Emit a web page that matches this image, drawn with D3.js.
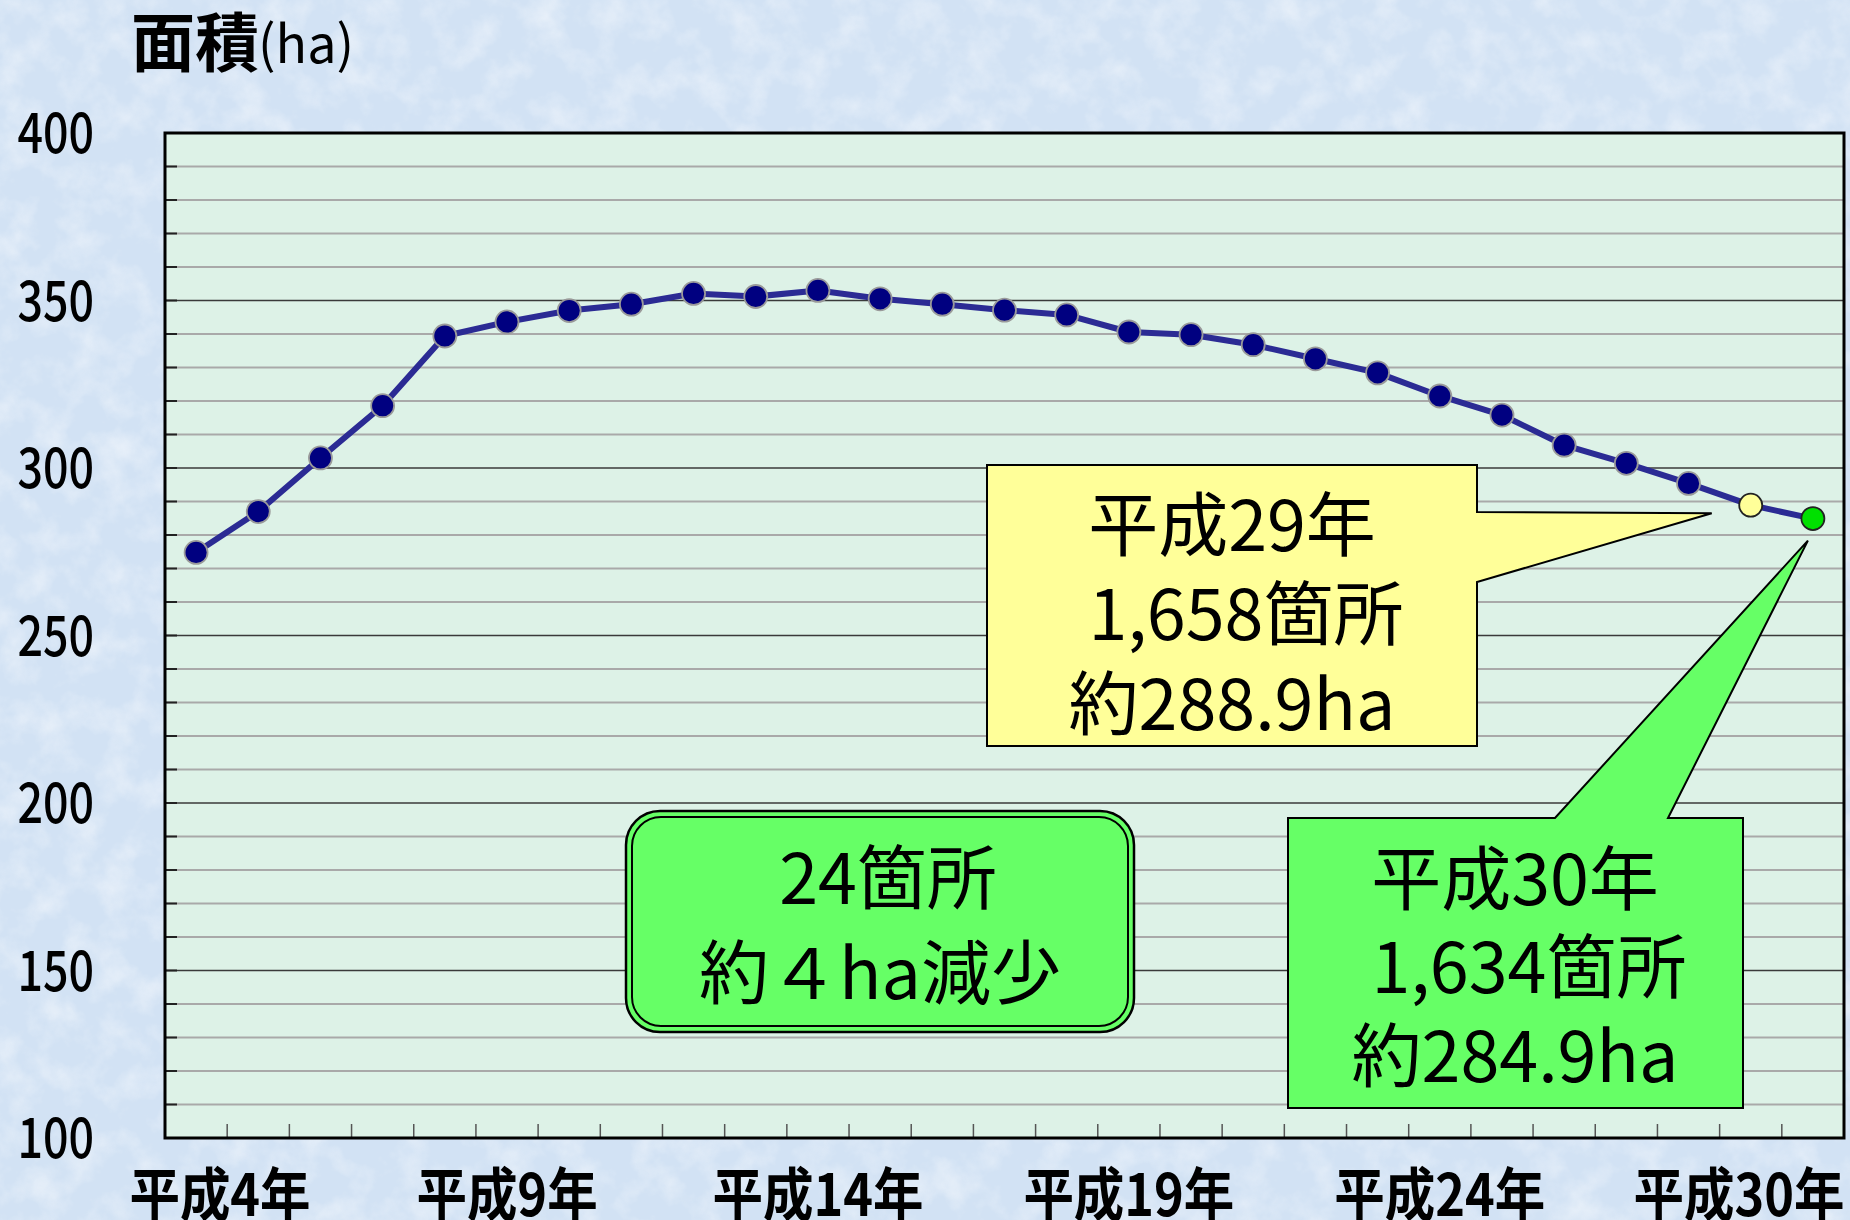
<!DOCTYPE html>
<html>
<head>
<meta charset="utf-8">
<script src="https://cdn.jsdelivr.net/npm/d3@7"></script>
<style>
  body { margin: 0; background: #d2e2f4; }
  svg { display: block; }
  text { font-family: "Noto Sans CJK JP", "Noto Sans", sans-serif; fill: #000; }
</style>
</head>
<body>
<div id="chart"></div>
<script>
// data (平成4年 .. 平成30年, 面積 ha)
const years = d3.range(4, 31);
const areas = [274.8, 287.0, 303.0, 318.6, 339.4, 343.6, 347.0, 348.9, 352.1, 351.2,
               353.0, 350.5, 348.9, 347.1, 345.7, 340.6, 339.8, 336.8, 332.6, 328.4,
               321.5, 315.8, 306.8, 301.4, 295.4, 288.9, 284.9];
const labelYears = [4, 9, 14, 19, 24, 30];
const yLabels = [100, 150, 200, 250, 300, 350, 400];
const calloutH29 = ["平成29年", "1,658箇所", "約288.9ha"];
const calloutH30 = ["平成30年", "1,634箇所", "約284.9ha"];
const summary = ["24箇所", "約４ha減少"];

const W = 1850, H = 1220;
const L = 165, R = 1844, T = 133, B = 1138;

const svg = d3.select('#chart').append('svg').attr('width', W).attr('height', H);

// textured light-blue background
const defs = svg.append('defs');
const f = defs.append('filter').attr('id', 'tex').attr('x', 0).attr('y', 0).attr('width', 1).attr('height', 1);
f.append('feTurbulence').attr('type', 'fractalNoise').attr('baseFrequency', 0.03).attr('numOctaves', 4).attr('seed', 7);
f.append('feColorMatrix').attr('type', 'matrix')
  .attr('values', '0 0 0 0 1  0 0 0 0 1  0 0 0 0 1  1.8 0 0 0 -0.75');
svg.append('rect').attr('width', W).attr('height', H).attr('fill', '#d2e2f4');
svg.append('rect').attr('width', W).attr('height', H).attr('filter', 'url(#tex)').attr('opacity', 0.5);

const x = d3.scaleBand().domain(years).range([L, R]);
const y = d3.scaleLinear().domain([100, 400]).range([B, T]);
const cx = d => x(d) + x.bandwidth() / 2;

// plot area
svg.append('rect').attr('x', L).attr('y', T).attr('width', R - L).attr('height', B - T).attr('fill', '#ddf2e7');

// grid lines every 10 ha
const grid = d3.range(110, 400, 10);
svg.append('g').selectAll('line').data(grid).join('line')
  .attr('x1', L).attr('x2', R)
  .attr('y1', d => y(d)).attr('y2', d => y(d))
  .attr('stroke', d => d % 50 === 0 ? '#3a3a3a' : '#a9a9a9')
  .attr('stroke-width', d => d % 50 === 0 ? 1.5 : 2);

// inner ticks on the left axis
svg.append('g').selectAll('line').data(grid).join('line')
  .attr('x1', L).attr('x2', L + 12)
  .attr('y1', d => y(d)).attr('y2', d => y(d))
  .attr('stroke', '#222').attr('stroke-width', 2);

// inner ticks on the bottom axis, between categories
svg.append('g').selectAll('line').data(years.slice(1)).join('line')
  .attr('x1', d => x(d)).attr('x2', d => x(d))
  .attr('y1', B - 14).attr('y2', B)
  .attr('stroke', '#555').attr('stroke-width', 1.5);

// callouts (behind the markers)
const tip29 = [cx(29) - 39, y(areas[25]) + 8];
const tip30 = [cx(30) - 5, y(areas[26]) + 22];

svg.append('path')
  .attr('d', `M987,465 H1477 V512 L${tip29[0]},${tip29[1]} L1477,582 V746 H987 Z`)
  .attr('fill', '#ffff99').attr('stroke', '#000').attr('stroke-width', 2);
svg.append('path')
  .attr('d', `M1288,818 H1555 L${tip30[0]},${tip30[1]} L1668,818 H1743 V1108 H1288 Z`)
  .attr('fill', '#66ff66').attr('stroke', '#000').attr('stroke-width', 2);

function lines(g, arr, xc, y0, step, size, shifts) {
  arr.forEach((t, i) => {
    g.append('text')
      .attr('x', xc + (shifts ? shifts[i] : 0))
      .attr('y', y0 + i * step + size * 0.37)
      .attr('text-anchor', 'middle')
      .style('font-size', size + 'px')
      .text(t);
  });
}
lines(svg, calloutH29, 1232, 525, 89.5, 70, [0, 14, 0]);
lines(svg, calloutH30, 1515, 879, 88.5, 70, [0, 14, 0]);

// rounded summary box
svg.append('rect').attr('x', 626).attr('y', 811).attr('width', 508).attr('height', 221)
  .attr('rx', 34).attr('fill', '#66ff66').attr('stroke', '#000').attr('stroke-width', 2.5);
svg.append('rect').attr('x', 632).attr('y', 817).attr('width', 496).attr('height', 209)
  .attr('rx', 29).attr('fill', 'none').attr('stroke', '#000').attr('stroke-width', 2);
lines(svg, summary, 880, 878, 95, 70, [8, 0]);

// series line + markers
const line = d3.line().x((d, i) => cx(years[i])).y(d => y(d));
svg.append('path').datum(areas).attr('d', line)
  .attr('fill', 'none').attr('stroke', '#2b2b94').attr('stroke-width', 6).attr('stroke-linejoin', 'round');

svg.append('g').selectAll('circle').data(areas).join('circle')
  .attr('cx', (d, i) => cx(years[i])).attr('cy', d => y(d))
  .attr('r', 11.5)
  .attr('fill', (d, i) => i === 25 ? '#ffff99' : i === 26 ? '#00e000' : '#000080')
  .attr('stroke', (d, i) => i >= 25 ? '#222' : '#9a9a9a')
  .attr('stroke-width', 1.8);

// frame
svg.append('rect').attr('x', L).attr('y', T).attr('width', R - L).attr('height', B - T)
  .attr('fill', 'none').attr('stroke', '#000').attr('stroke-width', 3);

// y labels (condensed look)
svg.append('g').selectAll('text').data(yLabels).join('text')
  .attr('transform', d => `translate(94,${y(d) + 56 * 0.36}) scale(0.8,1)`)
  .attr('text-anchor', 'end')
  .style('font-size', '56px').style('font-weight', 500)
  .text(d => d);

// x labels, kept inside the picture at both ends
svg.append('g').selectAll('text').data(labelYears).join('text')
  .attr('transform', d => {
    const xc = Math.max(220, Math.min(cx(d), R - 105));
    return `translate(${xc},1216) scale(0.87,1)`;
  })
  .attr('text-anchor', 'middle')
  .style('font-size', '58px').style('font-weight', 700)
  .text(d => `平成${d}年`);

// axis title
svg.append('text').attr('x', 131).attr('y', 42 + 64 * 0.37)
  .style('font-size', '64px').style('font-weight', 700).text('面積');
svg.append('text').attr('x', 258).attr('y', 44 + 52 * 0.37)
  .style('font-size', '52px').text('(ha)');
</script>
</body>
</html>
